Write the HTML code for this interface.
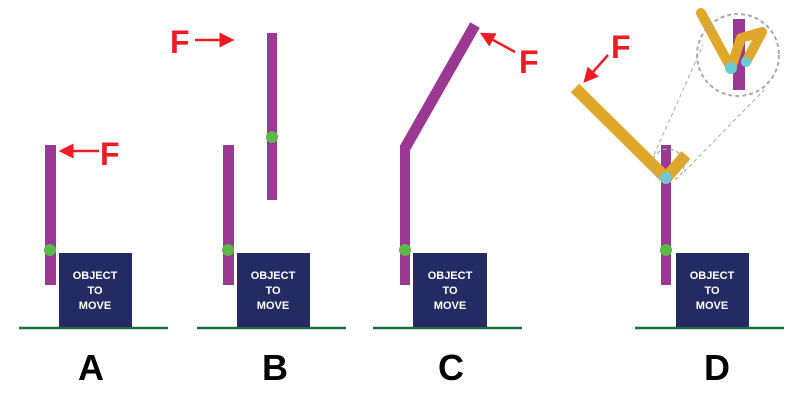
<!DOCTYPE html>
<html><head><style>body{margin:0;background:#fff}svg{display:block}</style></head><body>
<svg width="800" height="408" viewBox="0 0 800 408" xmlns="http://www.w3.org/2000/svg" font-family="Liberation Sans, sans-serif">
<defs><marker id="ah" markerWidth="6" markerHeight="6" refX="5" refY="3" orient="auto" markerUnits="strokeWidth"><path d="M0,0 L6,3 L0,6 z" fill="#ed1c24"/></marker></defs>
<g stroke="#1e6b3c" stroke-width="2.5"><line x1="19" y1="328" x2="168" y2="328"/><line x1="197" y1="328" x2="346" y2="328"/><line x1="373" y1="328" x2="522" y2="328"/><line x1="635" y1="328" x2="784" y2="328"/></g>
<g fill="#242a62"><rect x="59" y="253" width="73" height="74"/><rect x="237" y="253" width="73" height="74"/><rect x="413" y="253" width="74" height="74"/><rect x="676" y="253" width="73" height="74"/></g>
<g fill="#fff" font-size="11" font-weight="bold" text-anchor="middle">
<text x="95" y="279">OBJECT</text><text x="95" y="294">TO</text><text x="95" y="309">MOVE</text>
<text x="273" y="279">OBJECT</text><text x="273" y="294">TO</text><text x="273" y="309">MOVE</text>
<text x="450" y="279">OBJECT</text><text x="450" y="294">TO</text><text x="450" y="309">MOVE</text>
<text x="712" y="279">OBJECT</text><text x="712" y="294">TO</text><text x="712" y="309">MOVE</text>
</g>
<g fill="#9b3893"><rect x="45" y="145" width="11" height="140"/><rect x="223" y="145" width="11" height="140"/><rect x="267" y="33" width="10" height="167"/><rect x="400" y="145" width="10" height="140"/><rect x="661" y="145" width="10" height="140"/><rect x="733" y="19" width="12" height="71"/></g>
<line x1="405" y1="148" x2="475" y2="25" stroke="#9b3893" stroke-width="11"/>
<g fill="#5cb848"><circle cx="50" cy="250" r="6"/><circle cx="228" cy="250" r="6"/><circle cx="272" cy="137" r="6"/><circle cx="405" cy="250" r="6"/><circle cx="666" cy="250" r="6"/></g>
<g stroke="#e0a82a" stroke-width="12" fill="none" stroke-linejoin="round"><line x1="575" y1="88" x2="666" y2="178" stroke-linecap="butt"/><line x1="666" y1="178" x2="686" y2="155"/>
<polyline points="701,13 731,68 741,38 762,32 746,62" stroke-linecap="round" stroke-width="10"/></g>
<g fill="#6ccad3"><circle cx="666" cy="178" r="6"/><circle cx="731" cy="68" r="6"/><circle cx="746" cy="62" r="5"/></g>
<g fill="none" stroke="#aaa" stroke-dasharray="4,3"><circle cx="668" cy="165" r="16" stroke-width="1.2"/><circle cx="738" cy="55" r="41" stroke-width="2"/><line x1="654" y1="155" x2="703" y2="45" stroke-width="1"/><line x1="684" y1="172" x2="764" y2="90" stroke-width="1"/></g>
<g stroke="#ed1c24" stroke-width="2.5" marker-end="url(#ah)"><line x1="99" y1="151" x2="61" y2="151"/><line x1="195" y1="40" x2="232" y2="40"/><line x1="515" y1="52" x2="482" y2="34"/><line x1="608" y1="55" x2="585" y2="81"/></g>
<g fill="#ed1c24" font-size="32" font-weight="bold"><text x="100" y="165">F</text><text x="170" y="53">F</text><text x="519" y="73">F</text><text x="611" y="58">F</text></g>
<g fill="#000" font-size="36" font-weight="bold" text-anchor="middle"><text x="91" y="380">A</text><text x="275" y="380">B</text><text x="451" y="380">C</text><text x="717" y="380">D</text></g>
</svg>
</body></html>
